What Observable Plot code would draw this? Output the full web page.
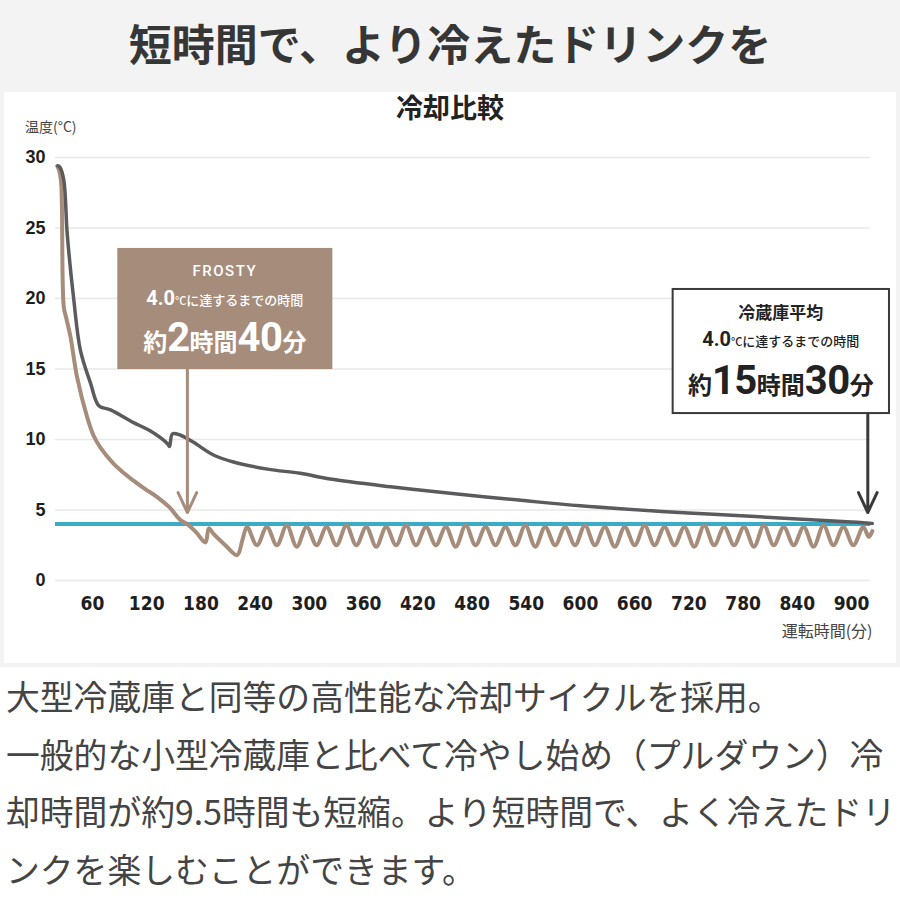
<!DOCTYPE html>
<html><head><meta charset="utf-8">
<script src="https://cdn.jsdelivr.net/npm/d3@7"></script>
<script src="https://cdn.jsdelivr.net/npm/@observablehq/plot@0.6"></script>
<style>
body{margin:0;width:900px;height:900px;overflow:hidden;background:#f3f3f3;font-family:"Noto Sans CJK JP","Noto Sans",sans-serif;position:relative}
#title{position:absolute;left:0;top:14px;width:900px;text-align:center;font-size:43px;font-weight:700;line-height:56px;color:#363636;}
#panel{position:absolute;left:4px;top:92px;width:892px;height:571px;background:#fff}
#sub{position:absolute;left:0;top:91px;width:900px;text-align:center;font-size:27px;font-weight:700;line-height:32px;color:#222}
#ylab{position:absolute;left:25px;top:116px;font-size:14px;line-height:20px;color:#444}
#chart{position:absolute;left:0;top:140px;width:900px;height:510px}
#text{position:absolute;left:0;top:667px;width:900px;height:233px;background:#fff}
#text div{padding-left:6px;font-size:33.8px;line-height:57.5px;color:#444;white-space:nowrap}
.box{position:absolute;box-sizing:border-box}
.box .ln{position:absolute;left:0;width:100%;text-align:center;white-space:nowrap}
.num{font-family:Roboto,"Liberation Sans",sans-serif;font-weight:700}
</style>
</head>
<body>
<div id="title">短時間で、より冷えたドリンクを</div>
<div id="panel"></div>
<div id="sub">冷却比較</div>
<div id="ylab">温度(°C)</div>
<div id="chart"></div>
<div id="text">
<div>大型冷蔵庫と同等の高性能な冷却サイクルを採用。</div>
<div>一般的な小型冷蔵庫と比べて冷やし始め（プルダウン）冷</div>
<div>却時間が約9.5時間も短縮。より短時間で、よく冷えたドリ</div>
<div>ンクを楽しむことができます。</div>
</div>
<script>
// ---- data ----
const xTicks = [60, 120, 180, 240, 300, 360, 420, 480, 540, 600, 660, 720, 780, 840, 900];
const yTicks = [0, 5, 10, 15, 20, 25, 30];
const targetTemp = [4.0];

// 冷蔵庫平均 (time in minutes, temperature °C)
const fridgePoints = [
  [21.8, 29.4], [24, 29.3], [28.2, 28.4], [32, 24.6], [39.3, 19.9], [46.7, 16.3], [57.8, 14.0],
  [67, 12.4], [80, 12.1], [105.4, 11.2], [124.2, 10.6], [143, 9.7], [145.2, 9.5], [148.5, 10.4],
  [157.4, 10.3], [171.8, 9.8], [193.9, 8.9], [216, 8.4], [253.7, 7.9], [290, 7.6], [323, 7.2],
  [390, 6.65], [453, 6.2], [540, 5.65], [600, 5.3], [690, 4.9], [747, 4.7],
  [830, 4.4], [900, 4.15], [923, 4.05]
];

// FROSTY
const frostyPoints = [
  [21, 29.4], [23, 29.1], [25.3, 28.2], [28.2, 19.4], [31, 18.6], [35.6, 17.3], [43, 14.4],
  [54, 11.6], [61, 10.3], [69, 9.4], [83, 8.3], [95, 7.6], [105, 7.1], [118, 6.5], [132, 5.9],
  [145, 5.2], [157, 4.3], [165, 4.0], [175, 3.4], [185, 2.7], [188.7, 3.7], [194, 3.3],
  [207, 2.5], [220, 1.8], [226, 2.9],
  [231, 3.8], [242, 2.5], [253, 3.8], [264, 2.5], [275, 3.9], [286, 2.4], [297, 3.8],
  [308, 2.5], [319, 3.8], [330, 2.5], [341, 3.9], [352, 2.5], [363, 3.8], [374, 2.4],
  [385, 3.8], [396, 2.5], [407, 3.9], [418, 2.5], [429, 3.8], [440, 2.5], [451, 3.8],
  [462, 2.4], [473, 3.9], [484, 2.5], [495, 3.8], [506, 2.5], [517, 3.8], [528, 2.5],
  [539, 3.9], [550, 2.4], [561, 3.8], [572, 2.5], [583, 3.8], [594, 2.5], [605, 3.9],
  [616, 2.5], [627, 3.8], [638, 2.4], [649, 3.8], [660, 2.5], [671, 3.9], [682, 2.5],
  [693, 3.8], [704, 2.5], [715, 3.8], [726, 2.4], [737, 3.9], [748, 2.5], [759, 3.8],
  [770, 2.5], [781, 3.8], [792, 2.4], [803, 3.9], [814, 2.5], [825, 3.8], [836, 2.5],
  [847, 3.8], [858, 2.4], [869, 3.9], [880, 2.5], [891, 3.8], [902, 2.5], [913, 3.8],
  [919, 3.1], [923, 3.5]
];

// annotation callouts (data units)
const calloutNames = ["FROSTY", "冷蔵庫平均"];
const calloutHours = ["2", "15"];
const calloutMinutes = ["40", "30"];
const calloutTime = [165, 918];       // where 4.0°C is reached
const calloutBoxTime = [[88, 326], [702.6, 942]];
const calloutBoxTemp = [[23.55, 14.96], [20.64, 11.84]];
const calloutTip = [4.82, 4.82];

// ---- build ----
const fridge = fridgePoints.map(([t, v]) => ({t, v}));
const frosty = frostyPoints.map(([t, v]) => ({t, v}));
const BROWN = "#a68c7a", GRAY = "#5b5b5d", BLUE = "#3aacc8", DARK = "#3a3a3a";
const callouts = calloutNames.map((name, i) => ({
  name, hours: calloutHours[i], minutes: calloutMinutes[i], t: calloutTime[i],
  x1: calloutBoxTime[i][0], x2: calloutBoxTime[i][1],
  yTop: calloutBoxTemp[i][0], yBottom: calloutBoxTemp[i][1], tip: calloutTip[i],
  fill: i === 0 ? BROWN : "#ffffff", stroke: i === 0 ? "none" : DARK,
  arrow: i === 0 ? BROWN : DARK, text: i === 0 ? "#ffffff" : "#222"
}));

const plot = Plot.plot({
  width: 900, height: 510,
  marginLeft: 55, marginRight: 30, marginTop: 17, marginBottom: 70,
  x: {domain: [19.05, 921]},
  y: {domain: [0, 30]},
  style: {background: "transparent", color: "#222", overflow: "visible"},
  marks: [
    Plot.ruleY(yTicks, {stroke: "#e8e8e8", strokeWidth: 1.5}),
    Plot.ruleY(targetTemp, {stroke: BLUE, strokeWidth: 4}),
    Plot.line(frosty, {x: "t", y: "v", stroke: BROWN, strokeWidth: 4, curve: "catmull-rom"}),
    Plot.line(fridge, {x: "t", y: "v", stroke: GRAY, strokeWidth: 3.5, curve: "catmull-rom"}),
    Plot.rect(callouts, {x1: "x1", x2: "x2", y1: "yTop", y2: "yBottom", fill: "fill", stroke: "stroke", strokeWidth: 2}),
    Plot.arrow(callouts, {x1: "t", x2: "t", y1: "yBottom", y2: "tip", stroke: "arrow", strokeWidth: 3, headLength: 11, headAngle: 50}),
    Plot.axisY({ticks: yTicks, tickSize: 0, tickPadding: 10, label: null, fontSize: 18, fontWeight: "bold", fontFamily: "Liberation Sans, Arial, sans-serif", fill: "#1e1e1e"}),
    Plot.axisX({ticks: xTicks, tickSize: 0, tickPadding: 16, label: null, fontSize: 19, fontWeight: "bold", fontFamily: "Liberation Sans Narrow, DejaVu Sans Condensed, sans-serif", fill: "#1e1e1e"}),
    Plot.text(["運転時間(分)"], {frameAnchor: "bottom-right", dx: 2, dy: 56, textAnchor: "end", fontSize: 16, fill: "#444", fontFamily: "Noto Sans CJK JP, sans-serif"})
  ]
});
const chart = document.getElementById("chart");
chart.appendChild(plot);

const xs = plot.scale("x"), ys = plot.scale("y");
callouts.forEach((c, i) => {
  const left = xs.apply(c.x1), right = xs.apply(c.x2);
  const top = ys.apply(c.yTop), bottom = ys.apply(c.yBottom);
  const box = document.createElement("div");
  box.className = "box";
  Object.assign(box.style, {left: left + "px", top: top + "px", width: (right - left) + "px", height: (bottom - top) + "px", color: c.text});
  const l1 = i === 0
    ? `<div class="ln" style="top:12px;line-height:22px;font-family:Roboto,sans-serif;font-weight:500;font-size:15px;letter-spacing:1.5px">${c.name}</div>`
    : `<div class="ln" style="top:11px;line-height:24px;font-weight:700;font-size:17px">${c.name}</div>`;
  const l2 = `<div class="ln" style="top:36px;line-height:28px"><span class="num" style="font-size:20px">4.0</span><span style="font-size:11px;font-weight:500">°C</span><span style="font-size:13px;font-weight:500">に達するまでの時間</span></div>`;
  const l3 = `<div class="ln" style="top:${i === 0 ? 67 : 69}px;line-height:46px;font-weight:700"><span style="font-size:24px">約</span><span class="num" style="font-size:40px;letter-spacing:-0.5px">${c.hours}</span><span style="font-size:24px">時間</span><span class="num" style="font-size:40px;letter-spacing:-0.5px">${c.minutes}</span><span style="font-size:24px">分</span></div>`;
  box.innerHTML = l1 + l2 + l3;
  chart.appendChild(box);
});
</script>
</body></html>
